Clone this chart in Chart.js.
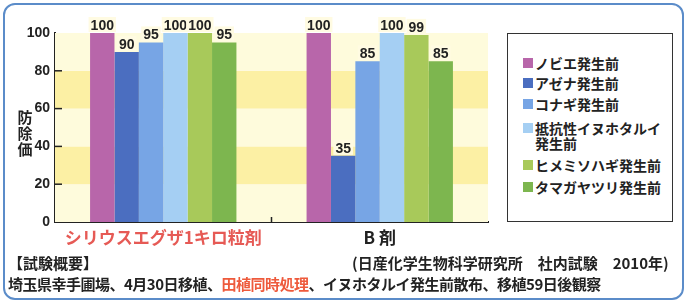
<!DOCTYPE html>
<html lang="ja">
<head>
<meta charset="UTF-8">
<title>防除価</title>
<script src="https://cdn.jsdelivr.net/npm/chart.js"></script>
<style>
  body { margin: 0; background: #fff; }
  #wrap { position: relative; width: 687px; height: 306px; font-family: "Noto Sans CJK JP", sans-serif; color: #222; }
  #frame { position: absolute; left: 3px; top: 3px; width: 677px; height: 293px; border: 2px solid #5b8cc9; border-radius: 12px; }
  canvas { position: absolute; left: 0; top: 0; }
  .txt { position: absolute; white-space: nowrap; font-weight: bold; }
  #ytitle { left: 17px; top: 109px; font-size: 15px; line-height: 16px; width: 16px; text-align: center; }
  #legend { position: absolute; left: 507px; top: 33px; width: 164px; height: 187px; border: 1.5px solid #333; background: #fff; }
  .item { position: absolute; left: 15px; font-size: 14px; line-height: 15px; font-weight: bold; }
  .item span.sw { position: absolute; left: 0; top: 2px; width: 10px; height: 10px; }
  .item span.lb { display: block; margin-left: 12px; }
  .red { color: #ee5a3c; }
</style>
</head>
<body>
<div id="wrap">
  <div id="frame"></div>
  <canvas id="chart" width="687" height="306"></canvas>
  <div id="ytitle" class="txt">防<br>除<br>価</div>
  <div id="legend"></div>
  <div class="txt" style="left:8px; top:252px; font-size:15px;">【試験概要】</div>
  <div class="txt" style="left:352px; top:252px; font-size:15px;">(日産化学生物科学研究所　社内試験　2010年)</div>
  <div class="txt" style="left:8px; top:273px; font-size:15px; letter-spacing:-0.5px;">埼玉県幸手圃場、4月30日移植、<span class="red">田植同時処理</span>、イヌホタルイ発生前散布、移植59日後観察</div>
</div>

<script>
const categories = ["シリウスエグザ1キロ粒剤", "B 剤"];
const seriesNames = ["ノビエ発生前", "アゼナ発生前", "コナギ発生前", "抵抗性イヌホタルイ\n発生前", "ヒメミソハギ発生前", "タマガヤツリ発生前"];
const nobie = [100, 100];
const azena = [90, 35];
const konagi = [95, 85];
const inuhotarui = [100, 100];
const himemisohagi = [100, 99];
const tamagayatsuri = [95, 85];
const yTicks = [0, 20, 40, 60, 80, 100];

const colors = ["#b866aa", "#4b6ec0", "#77a5e5", "#a5cff3", "#a8c95a", "#7db64f"];
const bandColors = ["#fefbdc", "#fcf0a4"];
const values = [nobie, azena, konagi, inuhotarui, himemisohagi, tamagayatsuri];

// legend (html)
const legend = document.getElementById("legend");
const legendTops = [22, 42, 63, 87, 124, 146];
seriesNames.forEach((n, i) => {
  const d = document.createElement("div");
  d.className = "item";
  d.style.top = legendTops[i] + "px";
  d.innerHTML = '<span class="sw" style="background:' + colors[i] + '"></span><span class="lb">' + n.replace("\n", "<br>") + '</span>';
  legend.appendChild(d);
});

const bgPlugin = {
  id: "bands",
  beforeDatasetsDraw(chart) {
    const { ctx, chartArea, scales: { y, x } } = chart;
    for (let i = 0; i < yTicks.length - 1; i++) {
      const top = y.getPixelForValue(yTicks[i + 1]);
      const bot = y.getPixelForValue(yTicks[i]);
      ctx.fillStyle = bandColors[i % 2];
      ctx.fillRect(chartArea.left, top, chartArea.right - chartArea.left, bot - top);
    }
  },
  afterDatasetsDraw(chart) {
    const { ctx, chartArea, scales: { y, x } } = chart;
    ctx.save();
    ctx.strokeStyle = "#222";
    ctx.lineWidth = 1.5;
    yTicks.forEach(v => {
      if (v === 0 || v === 100) return;
      const py = y.getPixelForValue(v);
      ctx.beginPath();
      ctx.moveTo(chartArea.left, py);
      ctx.lineTo(chartArea.left + 7, py);
      ctx.stroke();
    });
    const mx = (x.getPixelForValue(0) + x.getPixelForValue(1)) / 2;
    ctx.beginPath();
    ctx.moveTo(mx, chartArea.bottom);
    ctx.lineTo(mx, chartArea.bottom - 5);
    ctx.stroke();

    // value labels
    ctx.font = "bold 14px 'Liberation Sans', Arial, sans-serif";
    ctx.textAlign = "center";
    ctx.textBaseline = "bottom";
    chart.data.datasets.forEach((ds, di) => {
      chart.getDatasetMeta(di).data.forEach((bar, i) => {
        const t = String(ds.data[i]);
        const w = ctx.measureText(t).width + 4;
        ctx.fillStyle = "#fffbe2";
        ctx.fillRect(bar.x - w / 2, bar.y - 16, w, 15);
        ctx.fillStyle = "#222";
        ctx.fillText(t, bar.x, bar.y);
      });
    });
    ctx.restore();
  }
};

new Chart(document.getElementById("chart"), {
  type: "bar",
  data: {
    labels: categories,
    datasets: seriesNames.map((n, i) => ({
      label: n,
      data: values[i],
      backgroundColor: colors[i],
      borderWidth: 0
    }))
  },
  options: {
    responsive: false,
    animation: false,
    categoryPercentage: 0.676,
    barPercentage: 1,
    layout: { padding: { left: 0, top: 33, right: 199, bottom: 0 } },
    plugins: { legend: { display: false }, tooltip: { enabled: false } },
    scales: {
      x: {
        grid: { display: false, drawTicks: false },
        border: { display: true, color: "#222", width: 2 },
        ticks: {
          padding: 5,
          font: { size: 17, weight: "bold", family: "'Noto Sans CJK JP', sans-serif" },
          color: ctx => ctx.index === 0 ? "#e65a55" : "#222"
        },
        afterFit(s) { s.height = 84; }
      },
      y: {
        min: 0, max: 100,
        grid: { display: false, drawTicks: false },
        border: { display: true, color: "#222", width: 2 },
        ticks: {
          stepSize: 20,
          padding: 5,
          font: { size: 14, weight: "bold", family: "'Liberation Sans', Arial, sans-serif" },
          color: "#222"
        },
        afterFit(s) { s.width = 55; }
      }
    }
  },
  plugins: [bgPlugin]
});
</script>
</body>
</html>
